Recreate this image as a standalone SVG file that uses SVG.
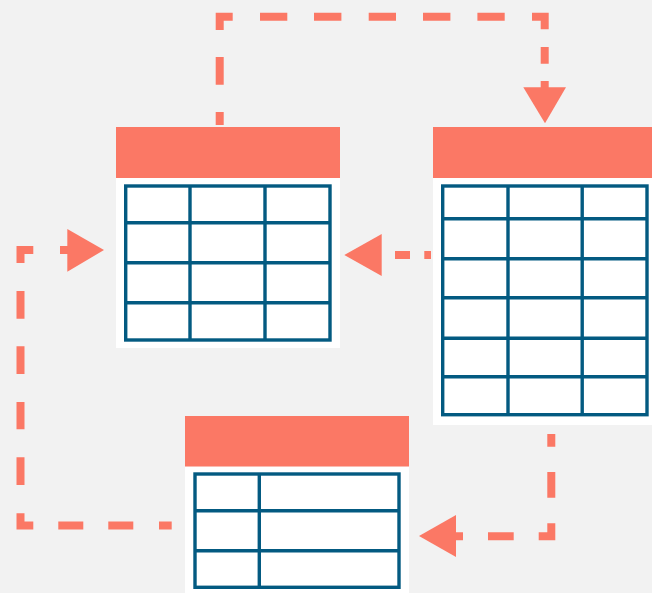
<svg xmlns="http://www.w3.org/2000/svg" width="652" height="593" viewBox="0 0 652 593">
  <style>
    .bg { fill: #f2f2f2; }
    .head { fill: #fb7865; }
    .body { fill: #ffffff; }
    .grid { fill: none; stroke: #035a81; stroke-width: 3.4; }
    .conn { fill: none; stroke: #fb7865; stroke-width: 8; }
    .arrow { fill: #fb7865; }
  </style>
  <rect class="bg" x="0" y="0" width="652" height="593"/>

  <g id="connectors">
    <path class="conn" d="M219.7,125 V16.7 H544.7 V88" stroke-dasharray="13 27.3 27.7 27 26.3 27.3 27.3 26.7 27.4 27.3 27.3 27 27.4 27 27.3 27.3 25.3 17.7 16.7 17.3 20"/>
    <polygon class="arrow" points="523.3,87.3 566,87.3 545,123.3"/>

    <path class="conn" d="M431,255 H381" stroke-dasharray="6.7 14.3 15 20"/>
    <polygon class="arrow" points="344.3,255 381.7,234 381.7,276"/>

    <path class="conn" d="M551.3,434 V536.3 H455" stroke-dasharray="12.7 25.3 25.7 25.6 25.6 25 25.7 25 10"/>
    <polygon class="arrow" points="419,536 456,515 456,557"/>

    <path class="conn" d="M171.7,525.5 H20.5 V250 H68" stroke-dasharray="12.7 25.7 25 25 25 25 25 28.3 27.7 28 27.3 28 27.7 27.6 27.7 28 25.8 26.7 20"/>
    <polygon class="arrow" points="67.3,229 104,250 67.3,271.7"/>
  </g>

  <g id="table1">
    <rect class="head" x="116" y="127" width="224" height="51"/>
    <rect class="body" x="116" y="178" width="224" height="170"/>
    <rect class="grid" x="125.7" y="186" width="204.3" height="154"/>
    <path class="grid" d="M190,186 V340 M265,186 V340 M125.7,222.8 H330 M125.7,262.8 H330 M125.7,302.8 H330"/>
  </g>

  <g id="table2">
    <rect class="head" x="433" y="127" width="219" height="51"/>
    <rect class="body" x="433" y="178" width="219" height="247"/>
    <rect class="grid" x="442.7" y="186" width="204.3" height="228.7"/>
    <path class="grid" d="M508,186 V414.7 M582.2,186 V414.7 M442.7,218.8 H647 M442.7,258.8 H647 M442.7,297.8 H647 M442.7,338.2 H647 M442.7,376.8 H647"/>
  </g>

  <g id="table3">
    <rect class="head" x="185" y="416" width="224" height="50.7"/>
    <rect class="body" x="185" y="466.7" width="224" height="126.3"/>
    <rect class="grid" x="195" y="474" width="204" height="113.3"/>
    <path class="grid" d="M259.3,474 V587.3 M195,510.8 H399 M195,550.8 H399"/>
  </g>
</svg>
